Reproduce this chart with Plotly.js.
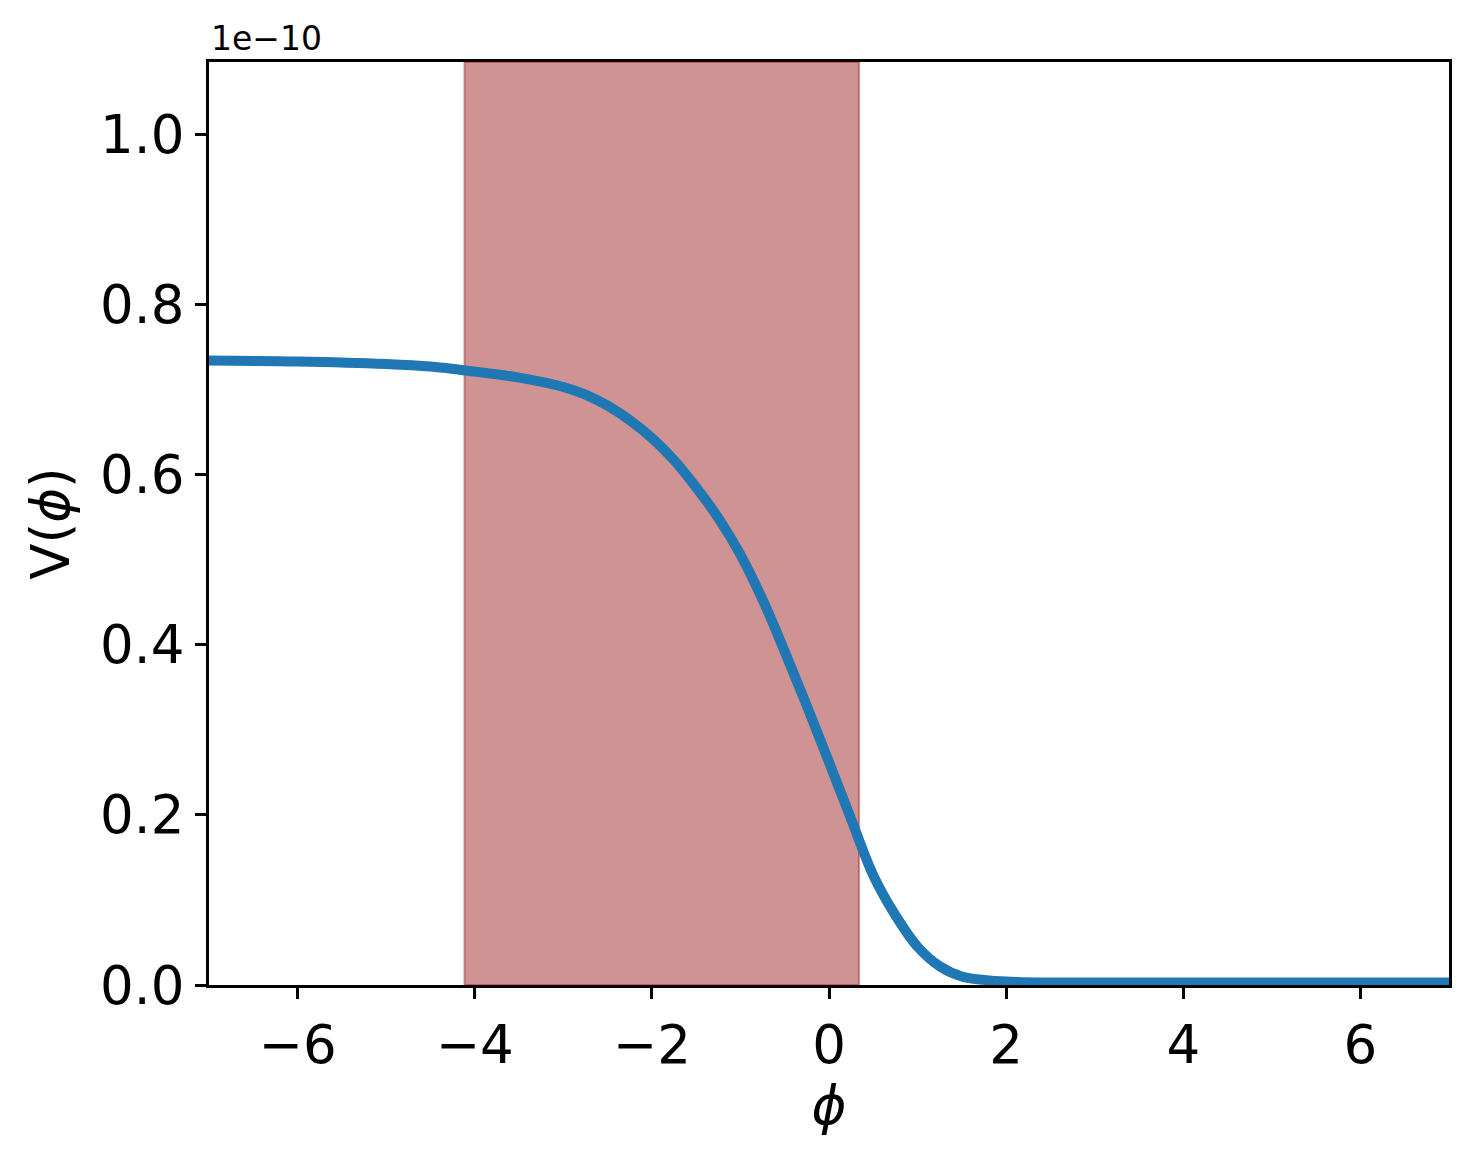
<!DOCTYPE html>
<html>
<head>
<meta charset="utf-8">
<script src="https://cdn.plot.ly/plotly-3.0.1.min.js"></script>
<style>
  html, body { margin: 0; padding: 0; background: #fff; }
  #plot { width: 1473px; height: 1160px; }
</style>
</head>
<body>
<div id="plot"></div>
<script>
// potential V(phi), in units of 1e-10
const phi = [-7, -6, -5, -4.5, -4, -3.5, -3, -2.75, -2.5, -2.25, -2, -1.75, -1.5, -1.25, -1, -0.75, -0.5, -0.25, 0, 0.25, 0.5, 0.75, 1, 1.25, 1.5, 1.75, 2, 2.5, 3, 4, 5, 6, 7];
const vScaled = [0.734, 0.733, 0.730, 0.727, 0.721, 0.714, 0.703, 0.694, 0.681, 0.664, 0.643, 0.617, 0.585, 0.549, 0.506, 0.453, 0.392, 0.328, 0.262, 0.195, 0.129, 0.082, 0.045, 0.022, 0.010, 0.006, 0.004, 0.003, 0.003, 0.003, 0.003, 0.003, 0.003];

// shaded phi interval
const bandStart = -4.115;
const bandEnd = 0.339;

const xTicks = [-6, -4, -2, 0, 2, 4, 6];
const yTicks = [0, 0.2, 0.4, 0.6, 0.8, 1.0];

const font = { family: "DejaVu Sans", color: "#000" };

const trace = {
  type: "scatter",
  mode: "lines",
  x: phi,
  y: vScaled,
  line: { color: "#1f77b4", width: 10, shape: "spline", smoothing: 1 },
  hoverinfo: "skip",
};

const layout = {
  width: 1473,
  height: 1160,
  margin: { l: 209, r: 24, t: 62, b: 175 },
  paper_bgcolor: "#fff",
  plot_bgcolor: "#fff",
  showlegend: false,
  font: { ...font, size: 53 },
  xaxis: {
    range: [-7, 7],
    tickvals: xTicks,
    ticks: "outside",
    ticklen: 11,
    tickwidth: 3,
    tickcolor: "#000",
    showline: true,
    linewidth: 3,
    linecolor: "#000",
    mirror: true,
    showgrid: false,
    zeroline: false,
    tickfont: { ...font, size: 53 },
    title: { text: "<i>ϕ</i>", font: { ...font, size: 53 }, standoff: 10 },
  },
  yaxis: {
    range: [0, 1.085],
    tickvals: yTicks,
    tickformat: ".1f",
    ticks: "outside",
    ticklen: 11,
    tickwidth: 3,
    tickcolor: "#000",
    showline: true,
    linewidth: 3,
    linecolor: "#000",
    mirror: true,
    showgrid: false,
    zeroline: false,
    tickfont: { ...font, size: 53 },
    title: { text: "V(<i>ϕ</i>)", font: { ...font, size: 53 }, standoff: 14 },
  },
  shapes: [
    {
      type: "rect",
      xref: "x",
      yref: "paper",
      x0: bandStart,
      x1: bandEnd,
      y0: 0,
      y1: 1,
      fillcolor: "rgba(160,40,40,0.5)",
      line: { color: "rgba(165,42,42,0.5)", width: 2 },
      layer: "below",
    },
  ],
  annotations: [
    {
      xref: "paper",
      yref: "paper",
      x: 0,
      y: 1,
      xanchor: "left",
      yanchor: "bottom",
      yshift: 2,
      text: "1e−10",
      showarrow: false,
      font: { ...font, size: 33 },
    },
  ],
};

Plotly.newPlot("plot", [trace], layout, { staticPlot: true });
</script>
</body>
</html>
